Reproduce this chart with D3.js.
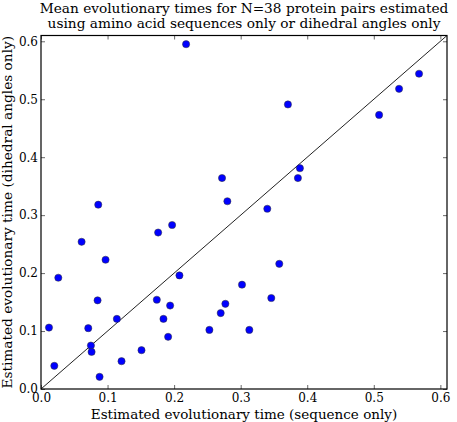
<!DOCTYPE html>
<html>
<head>
<meta charset="utf-8">
<script src="https://cdn.jsdelivr.net/npm/d3@7"></script>
<style>
  body { margin: 0; background: #fff; }
  text { font-family: "DejaVu Serif", serif; fill: #000; }
</style>
</head>
<body>
<div id="chart"></div>
<script>
// Tempos estimados por sequência (x) e por ângulos diedrais (y)
const seqTime = [0.218, 0.371, 0.508, 0.538, 0.568, 0.389, 0.386, 0.272, 0.280, 0.340,
                 0.086, 0.061, 0.097, 0.026, 0.176, 0.197, 0.208, 0.358, 0.302, 0.346,
                 0.313, 0.085, 0.012, 0.071, 0.075, 0.076, 0.020, 0.088, 0.114, 0.121,
                 0.151, 0.174, 0.194, 0.184, 0.191, 0.253, 0.270, 0.277];
const angTime = [0.595, 0.491, 0.473, 0.518, 0.544, 0.381, 0.364, 0.364, 0.324, 0.311,
                 0.318, 0.254, 0.223, 0.192, 0.270, 0.283, 0.196, 0.216, 0.180, 0.157,
                 0.102, 0.153, 0.106, 0.105, 0.075, 0.064, 0.040, 0.021, 0.121, 0.048,
                 0.067, 0.154, 0.144, 0.121, 0.090, 0.102, 0.131, 0.147];
const ticks = [0, 0.1, 0.2, 0.3, 0.4, 0.5, 0.6];
const axisMax = 0.61;
const titleLines = ["Mean evolutionary times for N=38 protein pairs estimated",
                    "using amino acid sequences only or dihedral angles only"];
const xTitle = "Estimated evolutionary time (sequence only)";
const yTitle = "Estimated evolutionary time (dihedral angles only)";

const W = 457, H = 422;
const margin = { top: 35.5, right: 10, bottom: 33, left: 41 };
const width = W - margin.left - margin.right;
const height = H - margin.top - margin.bottom;

const svg = d3.select("#chart").append("svg")
    .attr("width", W)
    .attr("height", H);

const g = svg.append("g")
    .attr("transform", `translate(${margin.left},${margin.top})`);

const x = d3.scaleLinear().domain([0, axisMax]).range([0, width]);
const y = d3.scaleLinear().domain([0, axisMax]).range([height, 0]);

const fmt = d3.format(".1f");

// Eixos com ticks para dentro nos quatro lados
function styleAxis(sel) {
    sel.select(".domain").remove();
    sel.selectAll(".tick line").attr("stroke", "#000").attr("stroke-width", 0.6);
    sel.selectAll(".tick text").attr("font-size", 12).attr("fill", "#000");
}

g.append("g")
    .attr("transform", `translate(0,${height})`)
    .call(d3.axisBottom(x).tickValues(ticks).tickFormat(fmt).tickSizeInner(-4).tickSizeOuter(0).tickPadding(4))
    .call(styleAxis);
g.append("g")
    .call(d3.axisTop(x).tickValues(ticks).tickFormat("").tickSizeInner(-4).tickSizeOuter(0))
    .call(styleAxis);
g.append("g")
    .call(d3.axisLeft(y).tickValues(ticks).tickFormat(fmt).tickSizeInner(-4).tickSizeOuter(0).tickPadding(3))
    .call(styleAxis);
g.append("g")
    .attr("transform", `translate(${width},0)`)
    .call(d3.axisRight(y).tickValues(ticks).tickFormat("").tickSizeInner(-4).tickSizeOuter(0))
    .call(styleAxis);

// Linha diagonal y = x
g.append("line")
    .attr("x1", x(0)).attr("y1", y(0))
    .attr("x2", x(axisMax)).attr("y2", y(axisMax))
    .attr("stroke", "#222")
    .attr("stroke-width", 1);

// Pontos
g.append("g")
    .selectAll("circle")
    .data(seqTime.map((d, i) => ({ s: d, a: angTime[i] })))
    .join("circle")
    .attr("cx", d => x(d.s))
    .attr("cy", d => y(d.a))
    .attr("r", 3.6)
    .attr("fill", "#0000ff")
    .attr("stroke", "#333")
    .attr("stroke-width", 0.5);

// Moldura
g.append("rect")
    .attr("width", width)
    .attr("height", height)
    .attr("fill", "none")
    .attr("stroke", "#000")
    .attr("stroke-width", 1.2);

// Títulos
svg.append("text")
    .attr("text-anchor", "middle")
    .attr("font-size", 13.7)
    .selectAll("tspan")
    .data(titleLines)
    .join("tspan")
    .attr("x", margin.left + width / 2)
    .attr("y", (d, i) => 12.5 + i * 15.5)
    .text(d => d);

svg.append("text")
    .attr("x", margin.left + width / 2)
    .attr("y", 418.5)
    .attr("text-anchor", "middle")
    .attr("font-size", 13.5)
    .text(xTitle);

svg.append("text")
    .attr("transform", `translate(12,${margin.top + height / 2}) rotate(-90)`)
    .attr("text-anchor", "middle")
    .attr("font-size", 13.7)
    .text(yTitle);
</script>
</body>
</html>
